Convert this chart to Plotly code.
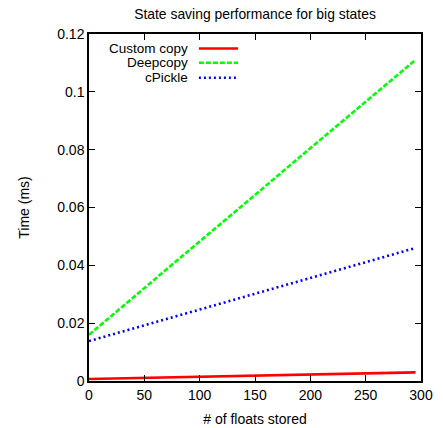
import plotly.graph_objects as go

floats = [0, 50, 100, 150, 200, 250, 295]
custom_copy = [0.0007, 0.0011, 0.0015, 0.0019, 0.0023, 0.0027, 0.0030]
deepcopy = [0.0160, 0.0322, 0.0483, 0.0644, 0.0805, 0.0966, 0.1110]
cpickle = [0.0138, 0.0193, 0.0248, 0.0302, 0.0356, 0.0411, 0.0460]

series_names = ["Custom copy", "Deepcopy", "cPickle"]
series_vals = [custom_copy, deepcopy, cpickle]
colors = ["#ff0000", "#00ff00", "#0000ff"]
dashes = ["solid", "5px,2px", "2px,3px"]
widths = [2.6, 2.6, 2.6]

FONT = "Liberation Sans, Arial, Helvetica, sans-serif"

fig = go.Figure()
for name, vals, c, d, w in zip(series_names, series_vals, colors, dashes, widths):
    fig.add_trace(go.Scatter(x=floats, y=vals, mode="lines", name=name,
                             line=dict(color=c, dash=d, width=w),
                             showlegend=False, hoverinfo="skip"))

# gnuplot-style legend: text right-aligned, sample to its right
rows_y = [0.958, 0.917, 0.874]
for name, c, d, w, yy in zip(series_names, colors, dashes, widths, rows_y):
    fig.add_annotation(x=0.301, y=yy, xref="paper", yref="paper", text=name,
                       showarrow=False, xanchor="right", yanchor="middle", borderpad=0,
                       font=dict(family=FONT, size=13.5, color="black"))
    fig.add_shape(type="line", xref="paper", yref="paper",
                  x0=0.331, x1=0.449, y0=yy, y1=yy,
                  line=dict(color=c, dash=d, width=w))

fig.update_layout(
    width=443, height=428,
    margin=dict(l=89, r=22, t=34, b=47),
    paper_bgcolor="white", plot_bgcolor="white",
    font=dict(family=FONT, size=14, color="black"),
    title=dict(text="State saving performance for big states", x=0.5, xanchor="center",
               y=1 - 14 / 428, yanchor="middle", xref="paper",
               font=dict(family=FONT, size=13.9, color="black")),
)

fig.update_xaxes(range=[0, 300], tickmode="array", tickvals=[0, 50, 100, 150, 200, 250, 300],
                 ticks="inside", ticklen=6, tickcolor="black", tickwidth=1.3,
                 showline=True, linecolor="black", automargin=False,
                 linewidth=1.5, mirror="allticks", showgrid=False, zeroline=False,
                 title=dict(text="# of floats stored", standoff=13, font=dict(size=14)),
                 tickfont=dict(size=14))
fig.update_yaxes(range=[0, 0.12], tickmode="array",
                 tickvals=[0, 0.02, 0.04, 0.06, 0.08, 0.1, 0.12],
                 ticktext=["0", "0.02", "0.04", "0.06", "0.08", "0.1", "0.12"],
                 ticks="inside", ticklen=6, tickcolor="black", tickwidth=1.3,
                 showline=True, linecolor="black", automargin=False,
                 linewidth=1.5, mirror="allticks", showgrid=False, zeroline=False,
                 title=dict(text="Time (ms)", standoff=24, font=dict(size=14)),
                 tickfont=dict(size=14))

fig.write_html("out.html", config={"displayModeBar": False},
               post_script="document.body.style.margin='0';document.body.style.overflow='hidden';")
